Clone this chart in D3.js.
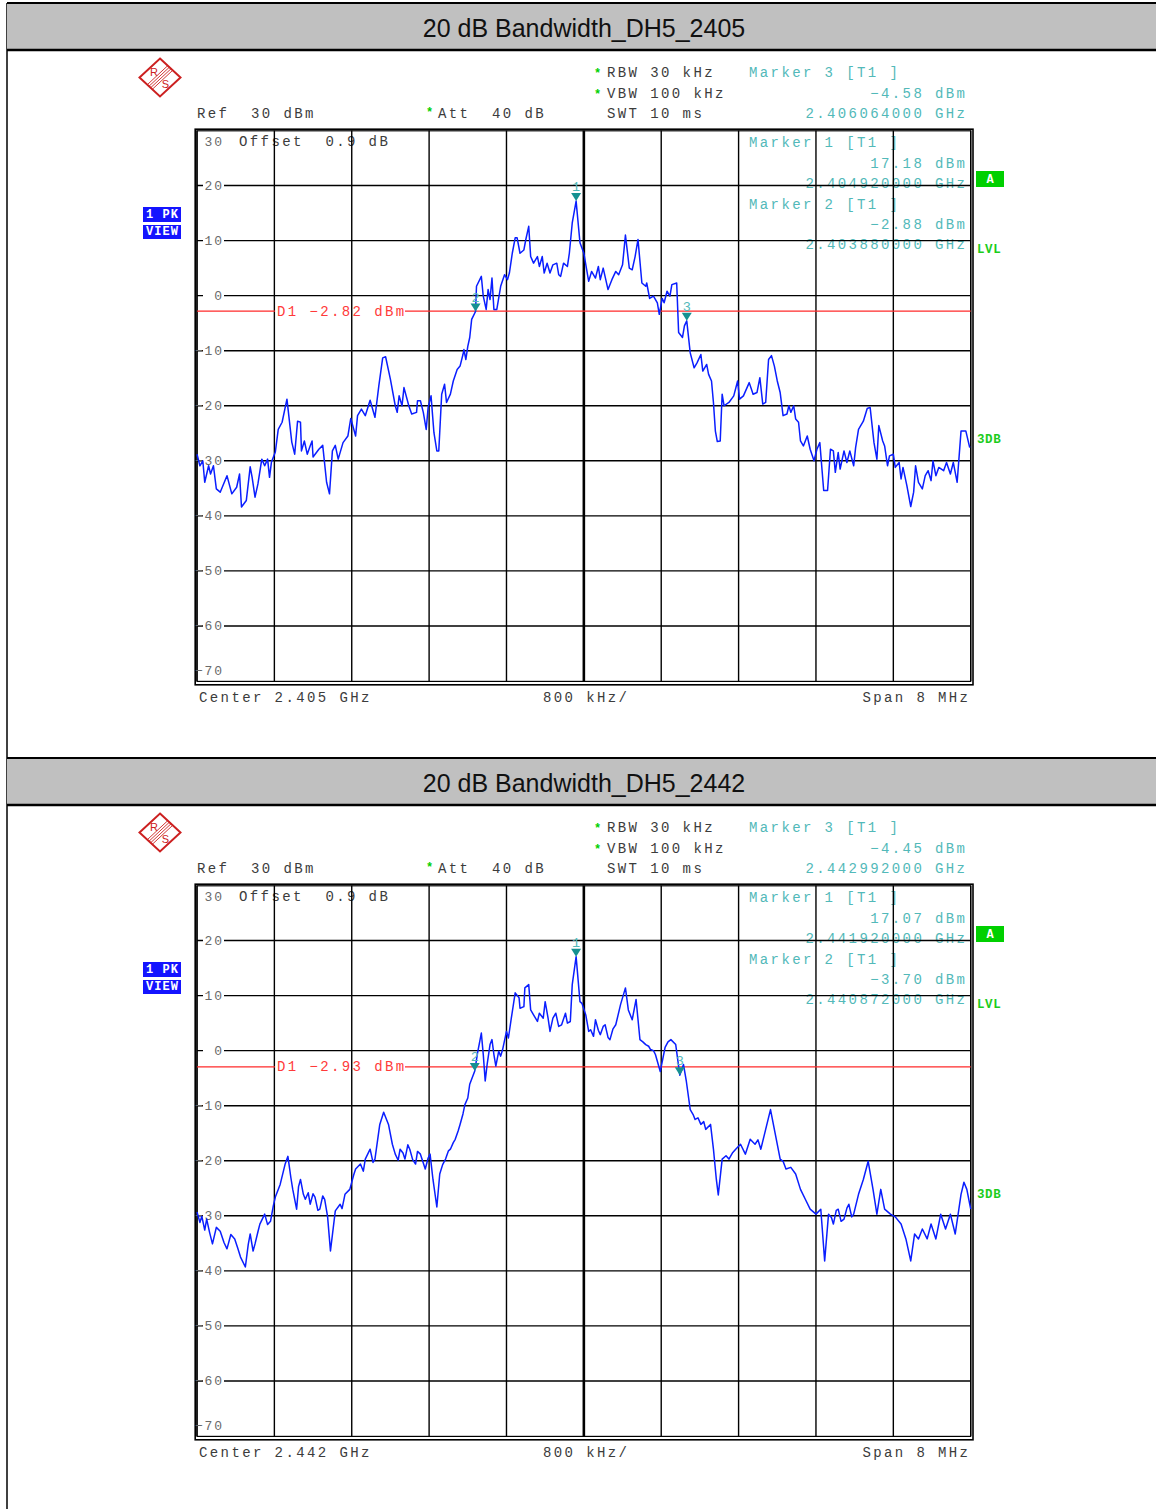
<!DOCTYPE html>
<html>
<head>
<meta charset="utf-8">
<script src="https://cdn.jsdelivr.net/npm/d3@7"></script>
<style>
  html, body { margin: 0; padding: 0; background: #fff; }
  svg { display: block; }
</style>
</head>
<body>
<svg id="chart" width="1156" height="1509"></svg>
<script>
// ---------------------------------------------------------------------------
// Data read off the two R&S spectrum analyser screenshots.
// Traces are [offset from centre in MHz, level in dBm].
// ---------------------------------------------------------------------------
const titles = ["20 dB Bandwidth_DH5_2405", "20 dB Bandwidth_DH5_2442"];
const centerGHz = [2.405, 2.442];
const displayLine = [-2.82, -2.93];
// [frequency GHz, level dBm]
const marker1 = [[2.404920, 17.18], [2.441920, 17.07]];
const marker2 = [[2.403880, -2.88], [2.440872, -3.70]];
const marker3 = [[2.406064, -4.58], [2.442992, -4.45]];
const yTicks = [30, 20, 10, 0, -10, -20, -30, -40, -50, -60, -70];
const xDivs = [-4, -3.2, -2.4, -1.6, -0.8, 0, 0.8, 1.6, 2.4, 3.2, 4];

const trace2405 = [
  [-4.00,-28.8],[-3.97,-30.9],[-3.94,-30.0],[-3.92,-33.9],[-3.88,-30.9],[-3.86,-32.4],
  [-3.83,-30.9],[-3.80,-35.1],[-3.76,-35.7],[-3.69,-32.7],[-3.64,-36.0],[-3.59,-34.8],
  [-3.56,-32.4],[-3.54,-38.4],[-3.49,-37.2],[-3.45,-31.1],[-3.43,-33.0],[-3.40,-36.6],
  [-3.37,-34.2],[-3.33,-29.7],[-3.30,-30.9],[-3.27,-29.7],[-3.25,-33.0],[-3.23,-30.2],
  [-3.19,-28.4],[-3.16,-24.3],[-3.12,-23.0],[-3.07,-18.8],[-3.02,-26.6],[-2.99,-28.8],
  [-2.96,-22.8],[-2.93,-23.0],[-2.92,-28.2],[-2.89,-26.4],[-2.86,-28.8],[-2.83,-27.3],
  [-2.81,-26.4],[-2.80,-29.3],[-2.74,-27.9],[-2.70,-27.2],[-2.66,-33.9],[-2.63,-36.0],
  [-2.60,-28.2],[-2.57,-27.2],[-2.54,-29.7],[-2.49,-26.7],[-2.44,-25.5],[-2.41,-22.3],
  [-2.36,-25.5],[-2.34,-21.8],[-2.30,-20.6],[-2.26,-21.8],[-2.21,-19.0],[-2.16,-22.1],
  [-2.12,-16.4],[-2.08,-11.3],[-2.05,-11.1],[-2.00,-15.2],[-1.95,-20.0],[-1.93,-21.2],
  [-1.91,-18.2],[-1.88,-20.0],[-1.86,-16.7],[-1.81,-20.0],[-1.78,-21.5],[-1.73,-21.2],
  [-1.72,-19.1],[-1.69,-19.1],[-1.66,-21.2],[-1.63,-24.3],[-1.61,-20.3],[-1.58,-18.2],
  [-1.55,-24.9],[-1.52,-28.2],[-1.50,-28.2],[-1.47,-17.9],[-1.44,-16.1],[-1.42,-19.4],
  [-1.38,-17.9],[-1.35,-15.5],[-1.31,-13.4],[-1.28,-12.8],[-1.25,-10.7],[-1.24,-9.8],
  [-1.22,-11.6],[-1.20,-9.2],[-1.18,-7.6],[-1.16,-4.3],[-1.12,-2.88],[-1.11,1.7],
  [-1.06,3.5],[-1.04,-0.1],[-1.01,-2.5],[-0.99,1.1],[-0.97,-0.7],[-0.95,3.2],
  [-0.93,-2.5],[-0.90,-2.5],[-0.86,1.7],[-0.82,3.8],[-0.79,2.9],[-0.77,4.1],
  [-0.74,7.7],[-0.71,10.5],[-0.69,10.5],[-0.66,7.7],[-0.62,8.3],[-0.60,10.2],
  [-0.57,12.6],[-0.55,7.1],[-0.52,5.9],[-0.48,7.1],[-0.46,5.3],[-0.43,7.1],
  [-0.41,4.1],[-0.38,5.9],[-0.35,4.1],[-0.32,5.6],[-0.28,5.9],[-0.26,3.8],
  [-0.24,3.5],[-0.21,5.9],[-0.17,5.3],[-0.15,7.7],[-0.12,13.2],[-0.08,17.18],
  [-0.04,9.6],[0.00,7.7],[0.05,2.6],[0.08,4.4],[0.12,3.2],[0.15,5.3],
  [0.17,2.9],[0.20,5.0],[0.25,1.1],[0.29,2.9],[0.33,4.4],[0.36,3.8],
  [0.40,5.6],[0.43,11.0],[0.47,5.0],[0.50,4.7],[0.53,7.1],[0.56,10.2],
  [0.60,2.3],[0.64,1.7],[0.65,2.3],[0.68,-0.5],[0.72,-0.1],[0.76,-1.3],
  [0.78,-3.4],[0.81,-0.5],[0.83,-1.3],[0.86,0.8],[0.89,-0.1],[0.91,2.0],
  [0.96,2.3],[0.98,-6.7],[1.02,-7.6],[1.04,-5.5],[1.064,-4.58],[1.10,-10.4],
  [1.14,-13.1],[1.17,-12.2],[1.21,-10.7],[1.23,-13.7],[1.27,-12.5],[1.29,-14.3],
  [1.32,-15.5],[1.34,-19.4],[1.36,-24.6],[1.38,-26.5],[1.41,-26.4],[1.43,-17.9],
  [1.45,-20.0],[1.50,-19.4],[1.55,-18.2],[1.59,-15.5],[1.61,-18.8],[1.65,-18.2],
  [1.71,-15.8],[1.75,-17.9],[1.79,-17.6],[1.82,-14.9],[1.85,-19.7],[1.88,-19.4],
  [1.91,-11.6],[1.94,-10.9],[1.97,-12.8],[2.00,-15.5],[2.03,-17.6],[2.06,-21.8],
  [2.10,-21.5],[2.12,-20.0],[2.14,-21.2],[2.17,-20.0],[2.19,-22.4],[2.22,-23.0],
  [2.24,-26.4],[2.27,-27.3],[2.31,-25.5],[2.34,-27.9],[2.38,-30.0],[2.41,-27.9],
  [2.44,-26.7],[2.48,-35.4],[2.52,-35.4],[2.55,-27.9],[2.58,-28.2],[2.60,-32.1],
  [2.63,-28.5],[2.65,-31.5],[2.69,-28.2],[2.72,-30.3],[2.75,-28.2],[2.79,-30.9],
  [2.81,-27.6],[2.84,-24.3],[2.89,-22.8],[2.93,-20.5],[2.96,-20.3],[3.00,-26.7],
  [3.03,-29.7],[3.05,-23.6],[3.09,-26.4],[3.11,-27.3],[3.14,-30.9],[3.16,-29.1],
  [3.20,-28.8],[3.22,-31.2],[3.26,-30.3],[3.28,-33.3],[3.30,-31.2],[3.34,-34.5],
  [3.38,-38.3],[3.41,-35.7],[3.43,-30.9],[3.46,-33.9],[3.50,-35.1],[3.53,-32.7],
  [3.56,-31.8],[3.59,-33.6],[3.61,-30.0],[3.64,-32.7],[3.67,-31.2],[3.72,-31.8],
  [3.75,-30.3],[3.79,-32.4],[3.82,-30.3],[3.86,-33.9],[3.90,-24.6],[3.95,-24.6],
  [3.99,-27.6]
];

const trace2442 = [
  [-4.00,-29.3],[-3.97,-31.2],[-3.95,-30.1],[-3.92,-32.6],[-3.90,-30.6],[-3.87,-33.0],
  [-3.84,-35.1],[-3.80,-32.1],[-3.76,-32.8],[-3.72,-34.9],[-3.69,-36.0],[-3.65,-33.4],
  [-3.61,-34.2],[-3.58,-35.8],[-3.55,-37.5],[-3.50,-39.3],[-3.47,-35.2],[-3.45,-33.3],
  [-3.42,-36.4],[-3.40,-35.1],[-3.37,-32.9],[-3.35,-31.5],[-3.30,-29.7],[-3.27,-31.6],
  [-3.24,-31.0],[-3.21,-28.1],[-3.19,-26.6],[-3.14,-24.3],[-3.09,-20.7],[-3.06,-19.2],
  [-3.03,-23.0],[-3.01,-25.2],[-2.97,-28.8],[-2.95,-24.7],[-2.93,-23.4],[-2.90,-26.1],
  [-2.88,-27.0],[-2.85,-25.8],[-2.83,-27.9],[-2.80,-26.0],[-2.78,-26.6],[-2.75,-29.0],
  [-2.73,-28.8],[-2.70,-26.4],[-2.68,-27.0],[-2.65,-30.1],[-2.62,-36.4],[-2.57,-29.1],
  [-2.52,-27.9],[-2.50,-28.7],[-2.47,-26.1],[-2.42,-25.2],[-2.38,-22.6],[-2.36,-21.5],
  [-2.31,-20.6],[-2.28,-21.9],[-2.26,-19.7],[-2.21,-17.9],[-2.18,-20.3],[-2.16,-19.7],
  [-2.11,-13.4],[-2.07,-11.2],[-2.02,-13.4],[-1.98,-17.0],[-1.95,-18.8],[-1.92,-19.9],
  [-1.90,-17.9],[-1.87,-18.6],[-1.85,-19.7],[-1.82,-17.1],[-1.80,-17.9],[-1.77,-19.8],
  [-1.74,-20.6],[-1.72,-18.3],[-1.69,-18.8],[-1.66,-20.4],[-1.64,-21.5],[-1.61,-19.5],
  [-1.59,-18.8],[-1.56,-23.4],[-1.52,-28.4],[-1.49,-22.4],[-1.46,-20.7],[-1.43,-19.7],
  [-1.40,-18.2],[-1.38,-17.9],[-1.35,-16.7],[-1.33,-16.1],[-1.30,-14.6],[-1.28,-13.4],
  [-1.25,-11.5],[-1.23,-9.8],[-1.20,-8.6],[-1.18,-6.1],[-1.128,-3.70],[-1.10,-0.5],
  [-1.06,3.2],[-1.04,-0.7],[-1.02,-5.5],[-1.00,-2.5],[-0.97,1.1],[-0.95,2.0],
  [-0.93,-0.7],[-0.91,-2.8],[-0.88,-0.1],[-0.86,-1.0],[-0.84,0.2],[-0.80,3.5],
  [-0.78,2.3],[-0.75,5.9],[-0.71,10.5],[-0.67,9.6],[-0.66,7.7],[-0.62,8.0],
  [-0.61,11.4],[-0.57,12.0],[-0.55,7.4],[-0.52,6.5],[-0.48,5.3],[-0.46,6.8],
  [-0.42,5.9],[-0.40,8.9],[-0.37,5.9],[-0.35,3.5],[-0.32,5.9],[-0.29,6.8],
  [-0.26,4.4],[-0.23,4.7],[-0.19,6.8],[-0.17,5.0],[-0.14,5.3],[-0.12,12.0],
  [-0.08,17.07],[-0.04,8.9],[-0.02,8.6],[0.02,6.5],[0.05,3.5],[0.07,3.8],
  [0.10,2.6],[0.12,5.6],[0.15,3.7],[0.17,2.9],[0.20,4.4],[0.22,4.7],
  [0.25,2.4],[0.27,2.0],[0.30,3.9],[0.33,4.7],[0.38,8.4],[0.43,11.4],
  [0.46,7.4],[0.50,5.6],[0.54,9.3],[0.58,2.0],[0.61,1.6],[0.64,1.1],
  [0.67,0.8],[0.69,0.2],[0.72,0.0],[0.74,-0.7],[0.79,-3.8],[0.84,0.6],
  [0.87,1.6],[0.90,2.0],[0.95,1.1],[0.992,-4.45],[1.03,-2.5],[1.06,-5.6],
  [1.10,-10.7],[1.13,-11.6],[1.15,-12.5],[1.18,-12.2],[1.21,-13.4],[1.24,-12.9],
  [1.26,-14.3],[1.31,-13.4],[1.34,-17.9],[1.37,-23.4],[1.39,-26.2],[1.43,-19.7],
  [1.47,-19.1],[1.50,-19.7],[1.54,-18.5],[1.57,-17.9],[1.62,-17.0],[1.67,-18.8],
  [1.72,-16.1],[1.77,-17.0],[1.80,-16.2],[1.83,-17.9],[1.88,-14.3],[1.93,-10.7],
  [1.98,-15.2],[2.03,-19.7],[2.06,-20.1],[2.09,-21.5],[2.14,-21.2],[2.19,-22.4],
  [2.24,-25.2],[2.29,-27.0],[2.34,-28.8],[2.40,-29.7],[2.45,-28.8],[2.49,-38.2],
  [2.53,-29.7],[2.56,-30.3],[2.58,-31.5],[2.61,-29.0],[2.63,-28.8],[2.66,-31.0],
  [2.69,-30.6],[2.72,-28.6],[2.74,-27.9],[2.77,-30.2],[2.79,-29.7],[2.84,-26.1],
  [2.89,-23.4],[2.94,-20.1],[2.99,-25.2],[3.03,-29.7],[3.07,-25.2],[3.11,-28.8],
  [3.17,-29.7],[3.22,-30.2],[3.28,-31.5],[3.33,-34.2],[3.38,-38.2],[3.42,-33.3],
  [3.46,-34.2],[3.50,-32.4],[3.55,-34.2],[3.59,-31.5],[3.64,-34.2],[3.69,-29.7],
  [3.74,-32.4],[3.79,-29.7],[3.84,-33.3],[3.90,-26.1],[3.93,-23.9],[3.96,-25.2],
  [4.00,-28.8]
];
const traces = [trace2405, trace2442];

// ---------------------------------------------------------------------------
// Helpers
// ---------------------------------------------------------------------------
const FONT_MONO = "'Liberation Mono', 'DejaVu Sans Mono', monospace";
const TEAL_TXT = "#52b9b9";
const TEAL_MK = "#159191";
const GREEN = "#00d000";

// Monospace text with the analyser's wide letter pitch; positions by column.
function monoText(g, str, x, y, o = {}) {
  const size = o.size || 14;
  const ls = o.ls ?? 2.4;
  const pitch = size * 0.6 + ls;
  const w = str.length * pitch - ls;
  let x0 = x;
  if (o.anchor === "end") x0 = x - w;
  else if (o.anchor === "middle") x0 = x - w / 2;
  return g.append("text")
    .attr("x", x0).attr("y", y)
    .attr("font-family", FONT_MONO)
    .attr("font-size", size)
    .attr("font-weight", o.weight || "normal")
    .attr("letter-spacing", ls)
    .attr("fill", o.color || "#3c3c3c")
    .style("white-space", "pre")
    .text(str);
}

const fmtLevel = v => v.toFixed(2).replace("-", "\u2212") + " dBm";
const fmtFreq = v => v.toFixed(9) + " GHz";

const svg = d3.select("#chart");

// Left border running down the whole page.
svg.append("line")
  .attr("x1", 7).attr("x2", 7).attr("y1", 3).attr("y2", 1509)
  .attr("stroke", "#000").attr("stroke-width", 1.5);

[0, 1].forEach(i => drawPanel(svg.append("g").attr("transform", `translate(0,${755 * i})`), i));

function drawPanel(g, i) {
  const x = d3.scaleLinear().domain([-4, 4]).range([197, 970.7]);
  const y = d3.scaleLinear().domain([-70, 30]).range([681, 130.5]);
  const offMHz = f => (f - centerGHz[i]) * 1000;

  // --- header band --------------------------------------------------------
  g.append("rect").attr("x", 7).attr("y", 3).attr("width", 1149).attr("height", 47)
    .attr("fill", "#c0c0c0");
  g.append("line").attr("x1", 7).attr("x2", 1156).attr("y1", 3).attr("y2", 3)
    .attr("stroke", "#000").attr("stroke-width", 2);
  g.append("line").attr("x1", 7).attr("x2", 1156).attr("y1", 50).attr("y2", 50)
    .attr("stroke", "#000").attr("stroke-width", 2.5);
  g.append("text")
    .attr("x", 584).attr("y", 37)
    .attr("text-anchor", "middle")
    .attr("font-family", "'Liberation Sans', Arial, sans-serif")
    .attr("font-size", 25)
    .attr("fill", "#111")
    .text(titles[i]);

  // --- R&S logo -----------------------------------------------------------
  const logo = g.append("g").attr("transform", "translate(160,77.5)")
    .attr("stroke", "#cc2020").attr("fill", "none");
  logo.append("path").attr("d", "M0,-19 L20.5,0 L0,19 L-20.5,0 Z").attr("stroke-width", 2);
  [-2.4, -0.8, 0.8, 2.4].forEach(d => {
    logo.append("line")
      .attr("x1", 10.2 + d).attr("y1", -9.5 + d)
      .attr("x2", -10.2 + d).attr("y2", 9.5 + d)
      .attr("stroke-width", 0.9);
  });
  logo.append("text").attr("x", -6).attr("y", -1.5).attr("text-anchor", "middle")
    .attr("font-family", "'Liberation Sans', Arial, sans-serif").attr("font-size", 11)
    .attr("fill", "#cc2020").attr("stroke", "none").text("R");
  logo.append("text").attr("x", 5.5).attr("y", 10.5).attr("text-anchor", "middle")
    .attr("font-family", "'Liberation Sans', Arial, sans-serif").attr("font-size", 11)
    .attr("fill", "#cc2020").attr("stroke", "none").text("S");

  // --- settings readout ---------------------------------------------------
  monoText(g, "*", 594, 77, { color: GREEN, weight: "bold", size: 12 });
  monoText(g, "RBW 30 kHz", 607, 77);
  monoText(g, "*", 594, 98, { color: GREEN, weight: "bold", size: 12 });
  monoText(g, "VBW 100 kHz", 607, 98);
  monoText(g, "SWT 10 ms", 607, 118);
  monoText(g, "Ref  30 dBm", 197, 118);
  monoText(g, "*", 426, 116, { color: GREEN, weight: "bold", size: 12 });
  monoText(g, "Att  40 dB", 438, 118);

  // marker 3 readout above the grid
  monoText(g, "Marker 3 [T1 ]", 749, 77, { color: TEAL_TXT });
  monoText(g, fmtLevel(marker3[i][1]), 965, 98, { color: TEAL_TXT, anchor: "end" });
  monoText(g, fmtFreq(marker3[i][0]), 965, 118, { color: TEAL_TXT, anchor: "end" });

  // marker 1 and 2 readouts inside the grid (grid lines drawn over them)
  monoText(g, "Marker 1 [T1 ]", 749, 147, { color: TEAL_TXT });
  monoText(g, fmtLevel(marker1[i][1]), 965, 168, { color: TEAL_TXT, anchor: "end" });
  monoText(g, fmtFreq(marker1[i][0]), 965, 188, { color: TEAL_TXT, anchor: "end" });
  monoText(g, "Marker 2 [T1 ]", 749, 209, { color: TEAL_TXT });
  monoText(g, fmtLevel(marker2[i][1]), 965, 229, { color: TEAL_TXT, anchor: "end" });
  monoText(g, fmtFreq(marker2[i][0]), 965, 249, { color: TEAL_TXT, anchor: "end" });

  monoText(g, "Offset  0.9 dB", 239, 146);

  // --- grid ---------------------------------------------------------------
  const grid = g.append("g").attr("stroke", "#000");
  grid.selectAll("line.v").data(xDivs).join("line")
    .attr("class", "v")
    .attr("x1", d => x(d)).attr("x2", d => x(d))
    .attr("y1", y(30)).attr("y2", y(-70))
    .attr("stroke-width", d => d === 0 ? 2.6 : 1.4);
  grid.selectAll("line.h").data(yTicks.filter(d => d < 30 && d > -70)).join("line")
    .attr("class", "h")
    .attr("x1", x(-4)).attr("x2", x(4))
    .attr("y1", d => y(d)).attr("y2", d => y(d))
    .attr("stroke-width", 1.4);
  // double frame
  g.append("rect").attr("x", 195.2).attr("y", 129.2).attr("width", 777.8).attr("height", 555.6)
    .attr("fill", "none").attr("stroke", "#000").attr("stroke-width", 1.6);
  g.append("rect").attr("x", 197).attr("y", 130.8).attr("width", 773.7).attr("height", 550.6)
    .attr("fill", "none").attr("stroke", "#000").attr("stroke-width", 1.2);

  // --- y tick labels (knock out the grid line behind them) ----------------
  yTicks.forEach(t => {
    let ty = y(t) + 4.5;
    if (t === 30) ty = 146;
    if (t === -70) ty = 675;
    if (t < 30 && t > -70) {
      g.append("rect").attr("x", 203).attr("y", y(t) - 5).attr("width", 21).attr("height", 10)
        .attr("fill", "#fff");
    }
    monoText(g, String(t).replace("-", "\u2212"), 222, ty,
      { size: 13, ls: 1.8, color: "#6a6a6a", anchor: "end" });
  });

  // --- display line D1 ----------------------------------------------------
  const dy = y(displayLine[i]);
  g.append("line").attr("x1", x(-4)).attr("x2", 275).attr("y1", dy).attr("y2", dy)
    .attr("stroke", "#ff2a2a").attr("stroke-width", 1.3);
  g.append("line").attr("x1", 405).attr("x2", x(4)).attr("y1", dy).attr("y2", dy)
    .attr("stroke", "#ff2a2a").attr("stroke-width", 1.3);
  monoText(g, "D1 " + fmtLevel(displayLine[i]), 277, dy + 4.5, { color: "#ff3a3a" });

  // --- trace --------------------------------------------------------------
  const line = d3.line().x(d => x(d[0])).y(d => y(d[1]));
  g.append("path")
    .datum(traces[i])
    .attr("d", line)
    .attr("fill", "none")
    .attr("stroke", "#0a1eff")
    .attr("stroke-width", 1.5)
    .attr("stroke-linejoin", "round");

  // --- markers ------------------------------------------------------------
  [marker1[i], marker2[i], marker3[i]].forEach((m, k) => {
    const mx = x(offMHz(m[0])), my = y(m[1]);
    g.append("path")
      .attr("d", `M${mx - 5},${my - 8} L${mx + 5},${my - 8} L${mx},${my} Z`)
      .attr("fill", TEAL_MK);
    g.append("text")
      .attr("x", mx).attr("y", my - 10)
      .attr("text-anchor", "middle")
      .attr("font-family", FONT_MONO)
      .attr("font-size", 13.5)
      .attr("fill", TEAL_TXT)
      .text(k + 1);
  });

  // --- bottom annotation --------------------------------------------------
  monoText(g, `Center ${centerGHz[i].toFixed(3)} GHz`, 199, 702);
  monoText(g, "800 kHz/", 543, 702);
  monoText(g, "Span 8 MHz", 968, 702, { anchor: "end" });

  // --- side badges --------------------------------------------------------
  const badge = (bx, by, bw, bh, fill, txt) => {
    g.append("rect").attr("x", bx).attr("y", by).attr("width", bw).attr("height", bh).attr("fill", fill);
    monoText(g, txt, bx + bw / 2, by + bh - 4,
      { anchor: "middle", color: "#fff", weight: "bold", size: 12, ls: 1.0 });
  };
  badge(143, 207, 38, 15, "#1414ff", "1 PK");
  badge(143, 225, 38, 14, "#1414ff", "VIEW");
  badge(976, 171, 28, 16, GREEN, "A");
  monoText(g, "LVL", 977, 253, { color: "#1ccc1c", weight: "bold", size: 12.5, ls: 0.6 });
  monoText(g, "3DB", 977, 443, { color: "#1ccc1c", weight: "bold", size: 12.5, ls: 0.6 });
}
</script>
</body>
</html>
